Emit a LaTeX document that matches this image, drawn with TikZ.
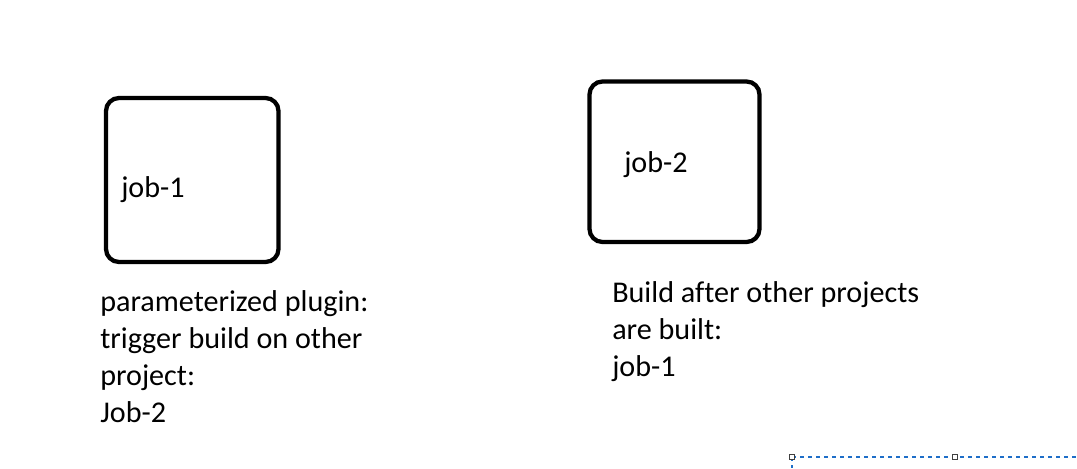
\documentclass[tikz,border=0pt]{standalone}
\usepackage{fontspec}
\setmainfont{Carlito}[Ligatures=NoCommon]
\usepackage{tikz}
\usetikzlibrary{shapes,arrows,positioning}
\definecolor{selblue}{RGB}{30,110,200}
\tikzstyle{job box} = [rectangle, rounded corners=9.75pt, draw=black, line width=3.2pt]
\tikzstyle{job label} = [inner sep=0pt, anchor=base west, font=\fontsize{22.6}{27.75}\selectfont]
\tikzstyle{note} = [align=left, inner sep=0pt, anchor=base west, font=\fontsize{22.6}{27.75}\selectfont]
\tikzstyle{handle} = [rectangle, draw=darkgray, fill=white, minimum size=3.5pt, inner sep=0pt, line width=0.6pt]
\tikzstyle{selection} = [selblue, line width=0.9pt, dash pattern=on 3pt off 3pt]

\begin{document}
\begin{tikzpicture}[x=0.75pt,y=-0.75pt]
    \useasboundingbox (0,0) rectangle (1077,468);

    \node (J1) [job box, minimum width=129.4pt, minimum height=123pt] at (192.25,180) { };
    \node (J1t) [job label] at (121,197.3) {job-1};
    \node (J2) [job box, minimum width=127.5pt, minimum height=120.4pt] at (674.5,161.75) { };
    \node (J2t) [job label] at (624,172.7) {job-2};

    % base of a multi-line note is its last line
    \node (N1) [note] at (100,422.7) {parameterized plugin:\\trigger build on other\\project:\\Job-2};
    \node (N2) [note] at (612,376.3) {Build after other projects\\are built:\\job-1};

    \coordinate (S1) at (792,457);
    \coordinate (S2) at (955,457);
    \coordinate (Sr) at (1077,457);
    \coordinate (Sd) at (792,468);
    \draw [selection] (S1) -- (Sr);
    \draw [selection] (S1) -- (Sd);
    \node (H1) [handle] at (S1) { };
    \node (H2) [handle] at (S2) { };

\end{tikzpicture}
\end{document}
